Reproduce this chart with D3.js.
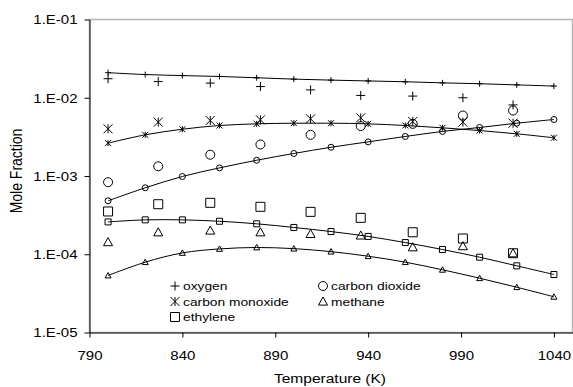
<html>
<head>
<script src="https://d3js.org/d3.v7.min.js"></script>
<style>
  body { margin: 0; background: #fff; }
  text { font-family: "Liberation Sans", Arial, sans-serif; fill: #000; }
</style>
</head>
<body>
<svg id="svg" width="573" height="387"></svg>
<script>
// **** Data ****
const modelT = [800, 820, 840, 860, 880, 900, 920, 940, 960, 980, 1000, 1020, 1040]
const expT = [800, 827, 855, 882, 909, 936, 964, 991, 1018]

const oxygenModel = [0.0209, 0.0198, 0.0192, 0.0187, 0.0180, 0.0173, 0.0168, 0.0164, 0.0160, 0.0155, 0.0151, 0.0146, 0.0141]
const oxygenExp = [0.0175, 0.0161, 0.0154, 0.0139, 0.0126, 0.0107, 0.0105, 0.0100, 0.0081]

const coModel = [0.00263, 0.00336, 0.00396, 0.00442, 0.00464, 0.00473, 0.00473, 0.00464, 0.00442, 0.00413, 0.00381, 0.00346, 0.00308]
const coExp = [0.00401, 0.00488, 0.00512, 0.00522, 0.00538, 0.00554, 0.00497, 0.00488, 0.00473]

const co2Model = [0.000482, 0.000707, 0.000986, 0.00127, 0.00159, 0.00194, 0.00233, 0.00273, 0.00320, 0.00371, 0.00417, 0.00473, 0.00527]
const co2Exp = [0.000834, 0.00133, 0.00187, 0.00253, 0.00336, 0.00434, 0.00464, 0.00593, 0.00687]

const ethyleneModel = [0.000259, 0.000275, 0.000275, 0.000264, 0.000245, 0.000220, 0.000195, 0.000169, 0.000141, 0.000115, 0.0000917, 0.0000711, 0.0000551]
const ethyleneExp = [0.000352, 0.000436, 0.000454, 0.000404, 0.000348, 0.000292, 0.000191, 0.000159, 0.000103]

const methaneModel = [0.0000535, 0.0000792, 0.000104, 0.000117, 0.000122, 0.000118, 0.000108, 0.0000944, 0.0000792, 0.0000633, 0.0000494, 0.0000379, 0.0000286]
const methaneExp = [0.000143, 0.000191, 0.000201, 0.000191, 0.000182, 0.000174, 0.000123, 0.000127, 0.000103]

const xTicks = [790, 840, 890, 940, 990, 1040]
const yTicks = [1e-5, 1e-4, 1e-3, 1e-2, 1e-1]
const yTickLabels = ['1.E-05', '1.E-04', '1.E-03', '1.E-02', '1.E-01']

const series = [
  { name: 'oxygen', marker: 'plus', model: oxygenModel, exp: oxygenExp },
  { name: 'carbon dioxide', marker: 'circle', model: co2Model, exp: co2Exp },
  { name: 'carbon monoxide', marker: 'star', model: coModel, exp: coExp },
  { name: 'methane', marker: 'triangle', model: methaneModel, exp: methaneExp },
  { name: 'ethylene', marker: 'square', model: ethyleneModel, exp: ethyleneExp }
]

// **** Helpers ****
function markerPath(type, s) {
  if (type === 'plus') return `M${-s},0H${s}M0,${-s}V${s}`
  if (type === 'star') return `M${-s},${-s}L${s},${s}M${-s},${s}L${s},${-s}M0,${-s}V${s}`
  if (type === 'circle') return `M${s},0A${s},${s} 0 1,1 ${-s},0A${s},${s} 0 1,1 ${s},0Z`
  if (type === 'square') return `M${-s},${-s}H${s}V${s}H${-s}Z`
  if (type === 'triangle') return `M0,${-s}L${s},${s * 0.8}L${-s},${s * 0.8}Z`
}

const svg = d3.select('#svg')
const plotLeft = 89.5, plotRight = 572.5, plotTop = 19.5, plotBottom = 332.5
const x = d3.scaleLinear().domain([790, 1050]).range([plotLeft, plotRight])
const y = d3.scaleLog().domain([1e-5, 1e-1]).range([plotBottom, plotTop])
const sx = 1.25 // the picture's text is a bit wide

// plot area border
svg.append('rect')
  .attr('x', plotLeft).attr('y', plotTop)
  .attr('width', plotRight - plotLeft).attr('height', plotBottom - plotTop)
  .attr('fill', 'none').attr('stroke', '#b4b4b4').attr('stroke-width', 1.5)

// axes
const xAxis = svg.append('g')
  .attr('transform', `translate(0,${plotBottom})`)
  .call(d3.axisBottom(x).tickValues(xTicks).tickFormat(d3.format('d')).tickSize(5).tickSizeOuter(0))
xAxis.selectAll('text')
  .attr('y', 27.5).attr('dy', 0)
  .attr('transform', `scale(${sx},1)`)
  .style('font-size', '12px')

const yAxis = svg.append('g')
  .attr('transform', `translate(${plotLeft},0)`)
  .call(d3.axisLeft(y).tickValues(yTicks).tickFormat((d, i) => yTickLabels[i]).tickSize(5).tickSizeOuter(0))
yAxis.selectAll('text')
  .attr('x', -12 / sx).attr('dy', '0.36em')
  .attr('transform', `scale(${sx},1)`)
  .style('font-size', '12px')

svg.selectAll('.domain, .tick line').attr('stroke', '#000')
svg.selectAll('.tick text').attr('fill', '#000').style('font-family', '"Liberation Sans", Arial, sans-serif')

// axis titles
svg.append('text')
  .attr('transform', `translate(330,383) scale(1.15,1)`)
  .attr('text-anchor', 'middle')
  .style('font-size', '13.5px')
  .text('Temperature (K)')

svg.append('text')
  .attr('transform', `translate(21.5,171) rotate(-90) scale(1,1.13)`)
  .attr('text-anchor', 'middle')
  .style('font-size', '14px')
  .text('Mole Fraction')

// model lines with small markers
const line = d3.line()
  .x((d, i) => x(modelT[i]))
  .y(d => y(d))
  .curve(d3.curveCatmullRom.alpha(0.5))

series.forEach(s => {
  svg.append('path')
    .attr('d', line(s.model))
    .attr('fill', 'none').attr('stroke', '#000').attr('stroke-width', 1)

  svg.append('g').selectAll('path')
    .data(s.model)
    .enter()
    .append('path')
    .attr('transform', (d, i) => `translate(${x(modelT[i])},${y(d)})`)
    .attr('d', markerPath(s.marker, 3))
    .attr('fill', 'none').attr('stroke', '#000').attr('stroke-width', 1)
})

// experimental points, large markers
series.forEach(s => {
  svg.append('g').selectAll('path')
    .data(s.exp)
    .enter()
    .append('path')
    .attr('transform', (d, i) => `translate(${x(expT[i])},${y(d)})`)
    .attr('d', markerPath(s.marker, 4.5))
    .attr('fill', 'none').attr('stroke', '#000').attr('stroke-width', 1)
})

// legend
const legendPos = [[175, 290], [323, 290], [175, 305.5], [323, 305.5], [175, 321]]
const legend = svg.append('g').selectAll('g')
  .data(series)
  .enter()
  .append('g')
  .attr('transform', (d, i) => `translate(${legendPos[i][0]},${legendPos[i][1]})`)
legend.append('path')
  .attr('transform', 'translate(0,-4)')
  .attr('d', d => markerPath(d.marker, 4.5))
  .attr('fill', 'none').attr('stroke', '#000').attr('stroke-width', 1)
legend.append('text')
  .attr('transform', `translate(8,0) scale(1.2,1)`)
  .style('font-size', '11.5px')
  .text(d => d.name)
</script>
</body>
</html>
